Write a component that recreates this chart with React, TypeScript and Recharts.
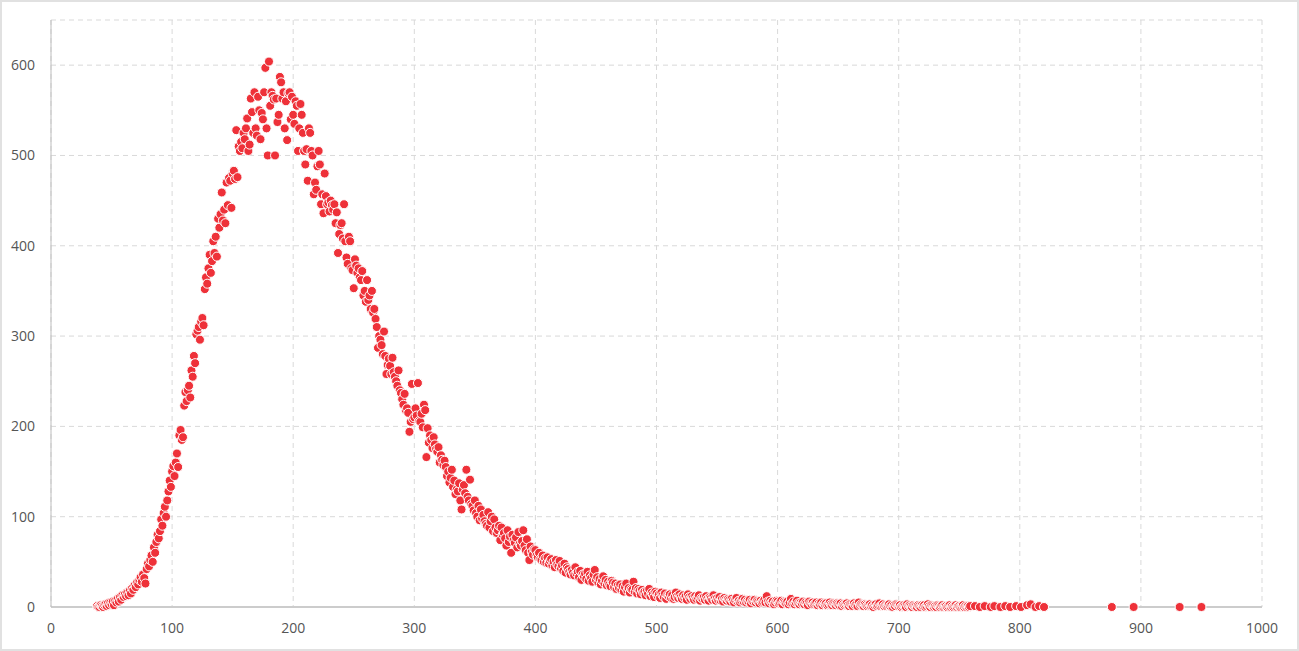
import { ScatterChart, Scatter, XAxis, YAxis, CartesianGrid } from 'recharts';

// counts, one value per x starting at the given start
const startA = 38;
const countsA = [
  1, 0,
  0, 2, 1, 0, 2, 3, 1, 4, 2, 5,
  3, 6, 2, 7, 5, 9, 6, 11, 8, 13,
  11, 14, 12, 16, 13, 18, 15, 21, 19, 24,
  22, 27, 25, 30, 33, 28, 36, 32, 26, 42,
  48, 45, 52, 57, 50, 66, 60, 72, 80, 76,
  84, 97, 90, 104, 111, 100, 118, 128, 140, 133,
  150, 156, 145, 160, 170, 155, 190, 196, 185, 188,
  223, 238, 228, 240, 245, 232, 262, 255, 278, 270,
  302, 306, 310, 296, 316, 320, 312, 352, 365, 358,
  375, 390, 370, 383, 405, 392, 410, 388, 430, 420,
  435, 459, 428, 440, 425, 470, 445, 475, 472, 442,
];

const startB = 150;
const countsB = [
  480, 483, 474, 528, 476, 510, 505, 515, 508, 525,
  518, 530, 541, 505, 512, 563, 548, 525, 570, 530,
  522, 565, 550, 518, 547, 540, 570, 597, 530, 500,
  604, 555, 570, 566, 562, 500, 563, 537, 545, 587,
  581, 563, 570, 530, 560, 517, 569, 570, 540, 565,
  545, 535, 560, 555, 505, 530, 557, 545, 525, 505,
  490, 507, 472, 530, 525, 505, 500, 457, 470, 462,
  488, 505, 490, 446, 457, 436, 480, 455, 446, 448,
  438, 450, 445, 440, 446, 425, 437, 392, 413, 423,
  425, 408, 446, 405, 387, 380, 410, 405, 375, 373,
  353, 385, 378, 370, 375, 365, 362, 372, 345, 350,
  338, 362, 340, 345, 330, 350, 326, 330, 319, 310,
  287, 300, 296, 290, 280, 305, 278, 258, 268, 275,
  267, 258, 276, 260, 255, 250, 245, 262, 240, 237,
  230, 224, 236, 218, 220, 215, 194, 205, 247, 208,
];

const startC = 300;
const countsC = [
  210, 220, 212, 248, 206, 205, 214, 199, 224, 218,
  166, 198, 182, 190, 185, 176, 188, 180, 175, 172,
  177, 160, 168, 163, 157, 162, 155, 145, 150, 138,
  143, 152, 133, 140, 125, 130, 128, 137, 118, 108,
  130, 135, 126, 152, 122, 118, 141, 114, 112, 107,
  118, 104, 100, 112, 96, 108, 98, 102, 95, 92,
  90, 105, 88, 95, 100, 84, 97, 88, 82, 85,
  90, 74, 88, 80, 82, 76, 68, 85, 72, 78,
  60, 80, 74, 71, 77, 66, 83, 70, 68, 73,
  85, 68, 63, 75, 60, 52, 67, 61, 58, 64,
  63, 57, 55, 60, 53, 52, 57, 50, 54, 49,
  55, 48, 51, 53, 46, 50, 44, 52, 47, 45,
  51, 43, 46, 40, 48, 38, 44, 42, 39, 36,
  41, 38, 35, 44, 37, 39, 33, 40, 30, 36,
  34, 37, 31, 39, 29, 35, 32, 28, 36, 41,
  30, 33, 27, 31, 25, 29, 34, 26, 30, 24,
  28, 25, 23, 29, 27, 22, 26, 20, 24, 21,
  25, 19, 23, 17, 22, 26, 18, 21, 16, 20,
  19, 28, 17, 21, 15, 20, 18, 14, 19, 16,
  17, 13, 18, 15, 20, 12, 16, 14, 11, 17,
];

const startD = 500;
const countsD = [
  15, 12, 14, 10, 16, 13, 11, 15, 9, 13,
  12, 14, 10, 13, 9, 11, 16, 12, 10, 14,
  11, 9, 13, 10, 12, 8, 14, 11, 9, 12,
  10, 8, 12, 9, 11, 13, 7, 10, 9, 11,
  8, 12, 9, 7, 11, 10, 8, 13, 9, 7,
  10, 8, 11, 7, 9, 6, 10, 8, 7, 9,
  8, 6, 9, 7, 5, 8, 10, 6, 7, 5,
  7, 9, 6, 8, 5, 7, 6, 8, 4, 7,
  6, 8, 5, 7, 6, 4, 7, 5, 6, 8,
  5, 12, 6, 4, 7, 5, 6, 3, 5, 7,
  6, 4, 5, 7, 3, 6, 5, 4, 6, 3,
  5, 9, 4, 6, 3, 5, 7, 4, 3, 5,
  4, 6, 3, 5, 4, 2, 6, 4, 3, 5,
  3, 4, 5, 2, 4, 3, 5, 2, 4, 3,
  4, 2, 3, 5, 3, 2, 4, 3, 2, 4,
  3, 2, 4, 1, 3, 2, 3, 4, 2, 1,
  3, 2, 1, 4, 2, 3, 1, 5, 2, 3,
  2, 1, 3, 2, 1, 2, 3, 1, 2, 0,
  2, 3, 1, 2, 4, 1, 2, 3, 1, 2,
  1, 2, 3, 1, 2, 0, 2, 1, 3, 2,
  1, 2, 0, 1, 2, 1, 0, 3, 1, 2,
  1, 0, 2, 1, 1, 0, 2, 1, 0, 2,
  1, 2, 0, 1, 3, 1, 0, 2, 1, 0,
  1, 0, 2, 1, 0, 1, 2, 0, 1, 1,
  0, 1, 2, 0, 1, 0, 1, 2, 0, 1,
  1, 0, 1, 2, 0, 1, 0, 1, 0, 1,
];

// sparse far tail
const tailX = [763, 767, 771, 776, 779, 784, 788, 792, 797, 801, 806, 809, 813, 816, 820, 876, 894, 932, 950];
const tailY = [1, 0, 1, 0, 1, 0, 1, 0, 1, 0, 2, 3, 0, 1, 0, 0, 0, 0, 0];

const xTicks = [0, 100, 200, 300, 400, 500, 600, 700, 800, 900, 1000];
const yTicks = [0, 100, 200, 300, 400, 500, 600];

const run = (start: number, ys: number[]) => ys.map((y, i) => ({ x: start + i, y }));

const points = [
  ...run(startA, countsA),
  ...run(startB, countsB),
  ...run(startC, countsC),
  ...run(startD, countsD),
  ...tailX.map((x, i) => ({ x, y: tailY[i] })),
];

const tickStyle = { fill: '#555555', fontSize: 14, fontFamily: '"Open Sans", sans-serif' };

export default function App() {
  return (
    <div
      style={{
        position: 'absolute',
        left: 0,
        top: 0,
        width: 1299,
        height: 651,
        boxSizing: 'border-box',
        border: '2px solid #e1e1e1',
        background: '#fff',
      }}
    >
      <ScatterChart width={1295} height={647} margin={{ top: 18, right: 35, bottom: 12, left: 0 }}>
        <CartesianGrid stroke="#d9d9d9" strokeDasharray="5 4" />
        <XAxis
          type="number"
          dataKey="x"
          domain={[0, 1000]}
          ticks={xTicks}
          interval={0}
          height={30}
          axisLine={{ stroke: '#cccccc', strokeWidth: 2 }}
          tickLine={false}
          tickSize={8}
          tickMargin={8}
          tick={tickStyle}
        />
        <YAxis
          type="number"
          dataKey="y"
          domain={[0, 650]}
          ticks={yTicks}
          interval={0}
          width={49}
          axisLine={{ stroke: '#bdbdbd' }}
          tickLine={false}
          tickSize={8}
          tickMargin={8}
          tick={tickStyle}
        />
        <Scatter data={points} fill="#ee3139" stroke="#ffffff" strokeWidth={1} isAnimationActive={false} />
      </ScatterChart>
    </div>
  );
}
